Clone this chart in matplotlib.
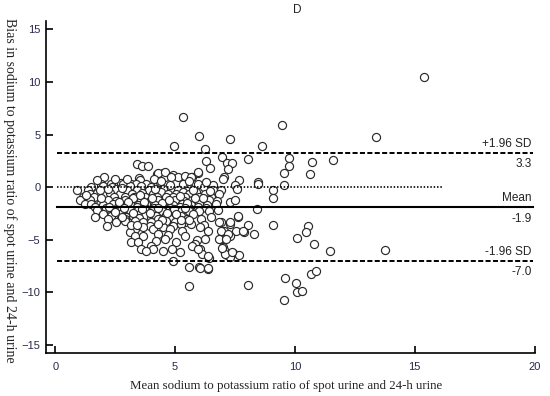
import matplotlib
matplotlib.use("Agg")
import matplotlib.pyplot as plt

# Bland-Altman data: mean of the two ratios (x) and their difference (y)
outer_x = [15.37, 13.38, 9.45, 8.62, 8.03, 9.77, 9.77, 9.53, 10.72, 10.63, 11.58, 8.45, 8.45, 9.53,
           9.09, 9.09, 8.41, 8.03, 7.88, 8.28, 9.09, 10.56, 10.48, 10.08, 10.78, 11.47, 13.74,
           8.06, 9.6, 10.03, 10.08, 10.28, 9.53, 10.67, 10.87]
outer_y = [10.48, 4.8, 5.9, 3.9, 2.7, 2.8, 2.0, 1.37, 2.36, 1.27, 2.6, 0.54, 0.35, 0.26,
           -0.29, -1.02, -2.1, -3.6, -4.3, -4.4, -3.57, -3.72, -4.3, -4.84, -5.4, -6.05, -5.95,
           -9.3, -8.66, -9.14, -9.93, -9.87, -10.7, -8.24, -7.95]

mid_x = [5.33, 6.0, 7.27, 4.94, 6.26, 6.95, 7.18, 7.38, 7.2, 6.3, 6.44, 7.03, 6.98, 7.66, 7.48,
         7.57, 7.62, 7.27, 7.03, 7.55, 7.3, 6.88, 6.98, 7.03, 7.16, 7.41, 7.66, 6.41, 5.58, 5.58,
         6.0, 6.37, 5.77, 6.02, 7.27, 7.08, 7.36, 6.94, 6.11, 6.38]
mid_y = [6.66, 4.9, 4.63, 3.9, 3.63, 2.83, 2.32, 2.26, 1.76, 2.45, 1.84, 0.98, 0.76, 0.72, 0.26,
         -0.13, -2.83, -3.5, -4.2, -4.2, -4.68, -4.9, -5.7, -5.95, -6.43, -6.27, -6.4, -6.69, -9.36, -7.6,
         -7.6, -7.75, -5.63, -5.9, -6.59, -6.37, -6.2, -5.73, -6.37, -6.53]

upper_x = [3.4, 3.6, 3.87, 4.24, 4.49, 4.59, 4.91, 5.12, 5.4, 5.7, 5.97, 3.5, 3.52, 2.03,
           4.28, 4.56, 4.84, 5.68, 5.95, 3.17, 2.76]
upper_y = [2.25, 2.0, 2.03, 1.24, 1.4, 0.98, 1.15, 1.0, 1.1, 1.0, 1.4, 0.9, 0.67, 0.98,
           1.31, 1.46, 0.98, 0.98, 1.46, 0.35, 0.41]

core_x = [1.9, 2.34, 2.83, 3.38, 3.8, 4.35, 5.33, 5.95, 6.6,
          1.5, 1.99, 2.37, 3.1, 3.59, 4.0, 4.77, 5.6, 6.2,
          0.9, 1.37, 2.55, 3.0, 3.4, 3.9, 4.49, 5.1, 5.5, 6.58, 6.9,
          1.44, 1.72, 2.06, 2.27, 2.7, 3.2, 3.6, 4.07, 4.42, 4.7, 5.05, 5.33, 5.6, 5.88, 6.23, 6.85,
          1.16, 1.6, 2.45, 2.9, 3.3, 3.75, 4.25, 4.9, 5.4, 6.0, 6.5,
          1.02, 1.44, 1.85, 2.2, 2.55, 2.9, 3.24, 3.59, 3.94, 4.3, 4.65, 5.0, 5.35, 5.7, 6.05, 6.4,
          6.75, 7.27, 7.48,
          1.23, 1.5, 2.0, 2.4, 2.75, 3.1, 3.45, 3.8, 4.15, 4.5, 4.9, 5.3, 5.65, 6.0, 6.35, 6.7,
          1.65, 2.1, 2.6, 3.0, 3.4, 3.75, 4.1, 4.5, 4.8, 5.2, 5.6, 5.95, 6.3,
          1.72, 2.41, 2.76, 3.1, 3.45, 3.73, 4.05, 4.45, 4.85, 5.25, 5.6, 6.0, 6.4, 6.8,
          1.99, 2.34, 2.69, 2.97, 3.24, 3.45, 3.73, 4.0, 4.21, 4.6, 4.77, 5.26, 5.74, 6.51, 7.62,
          1.65, 2.2, 2.9, 3.5, 4.3, 4.77, 5.5, 6.09, 6.9,
          2.55, 2.9, 3.31, 3.66, 4.0, 4.6, 5.0, 5.4, 6.85, 7.27,
          2.17, 3.94, 4.91, 5.26, 5.68, 6.2,
          3.31, 3.66, 4.07, 4.49, 6.02, 4.8,
          6.37, 6.92, 7.82, 5.3,
          3.1, 3.31, 3.66, 5.4, 7.2, 4.3, 4.7,
          4.21, 4.56, 6.23, 6.85, 7.13, 5.9,
          3.17, 3.45, 5.05, 5.81, 4.0,
          3.59, 4.09, 4.5, 4.85, 5.2, 5.69, 5.97,
          3.8, 4.91, 6.02, 6.37]
core_y = [0.35, 0.3, 0.35, 0.35, 0.35, 0.51, 0.35, 0.35, 0.2,
          0.03, 0.1, 0.03, 0.1, 0.1, 0.0, 0.19, -0.05, 0.0,
          -0.29, -0.29, -0.13, -0.3, -0.25, -0.3, -0.13, -0.3, -0.35, -0.29, -0.3,
          -0.6, -0.54, -0.6, -0.54, -0.6, -0.6, -0.55, -0.6, -0.45, -0.6, -0.6, -0.45, -0.6, -0.5,
          -0.6, -0.65,
          -0.92, -0.95, -0.9, -0.95, -0.9, -0.95, -0.9, -0.95, -0.9, -0.95, -0.9,
          -1.24, -1.24, -1.56, -1.24, -1.3, -1.24, -1.56, -1.24, -1.3, -1.24, -1.3, -1.24, -1.3,
          -1.24, -1.3, -1.24, -1.3, -1.4, -1.24,
          -1.6, -1.56, -1.65, -1.6, -1.65, -1.6, -1.65, -1.6, -1.65, -1.6, -1.7, -1.6, -1.7,
          -1.6, -1.7, -1.6,
          -1.88, -1.95, -1.9, -1.95, -1.9, -1.95, -1.95, -1.9, -1.95, -1.9, -1.95, -1.9, -1.95,
          -2.2, -2.2, -2.2, -2.2, -2.2, -2.2, -2.25, -2.25, -2.3, -2.25, -2.3, -2.25, -2.3, -2.2,
          -2.55, -2.7, -2.55, -2.86, -2.7, -2.6, -2.7, -2.86, -2.7, -2.6, -2.86, -2.7, -2.55,
          -2.86, -2.7,
          -2.86, -3.0, -3.0, -2.95, -3.0, -3.0, -3.0, -3.03, -3.34,
          -3.34, -3.18, -3.18, -3.34, -3.3, -3.25, -3.3, -3.3, -3.34, -3.34,
          -3.66, -3.66, -3.66, -3.5, -3.5, -3.6,
          -3.98, -3.82, -3.98, -3.82, -3.82, -4.0,
          -4.14, -4.14, -4.14, -4.14,
          -4.3, -4.6, -4.61, -4.61, -4.46, -4.4, -4.5,
          -5.1, -4.94, -4.94, -4.94, -4.94, -5.0,
          -5.25, -5.25, -5.25, -5.41, -5.57,
          -5.86, -5.9, -6.05, -5.9, -6.2, -5.57, -5.9,
          -6.05, -7.0, -7.64, -7.7]

# further overlapping points inside the dense cluster
dense_x = [1.75, 2.5, 3.0, 4.1, 4.4, 5.6, 6.3,
           1.3, 1.85, 2.2, 2.8, 3.25, 3.55, 4.15, 4.6, 5.2, 5.75, 6.15, 6.45,
           1.9, 2.65, 3.05, 3.7, 4.05, 4.45, 4.75, 5.5, 5.85,
           2.25, 2.85, 3.6, 4.3, 4.95, 5.4,
           2.5, 3.25, 3.95, 4.65, 5.05, 2.8,
           4.45, 5.25, 3.15, 3.4, 4.3, 5.6]
dense_y = [0.7, 0.75, 0.8, 0.75, 0.6, 0.6, 0.5,
           -0.7, -0.3, -0.2, -0.1, -1.0, -0.75, -0.2, -0.95, -0.85, -0.3, -1.0, -0.4,
           -1.0, -1.45, -1.45, -1.45, -1.05, -1.5, -1.2, -1.5, -1.05,
           -1.85, -2.0, -2.05, -2.0, -2.1, -2.0,
           -2.4, -2.45, -2.45, -2.45, -2.5, -2.8,
           -3.1, -3.1, -3.6, -3.55, -3.5, -3.1]

mean_x = outer_x + mid_x + upper_x + core_x + dense_x
diff_y = outer_y + mid_y + upper_y + core_y + dense_y

bias = -1.9
upper_loa = 3.3
lower_loa = -7.0

x_ticks = [0, 5, 10, 15, 20]
y_ticks = [-15, -10, -5, 0, 5, 10, 15]

sans = ["Liberation Sans", "DejaVu Sans"]
serif = ["Liberation Serif", "DejaVu Serif"]
tick_col = "#262a4a"

fig = plt.figure(figsize=(5.5, 3.96), dpi=100)
ax = fig.add_axes([0.0836, 0.1093, 0.8891, 0.8384])

ax.scatter(mean_x, diff_y, s=34, facecolor="white", edgecolor="#2a2a2a",
           linewidth=0.85, zorder=2)

# limit lines and zero line
x0, x1 = 0.05, 19.92
ax.plot([x0, x1], [upper_loa, upper_loa], color="black", lw=1.4, dashes=(2.6, 1.2), zorder=3)
ax.plot([x0, x1], [lower_loa, lower_loa], color="black", lw=1.4, dashes=(2.6, 1.2), zorder=3)
ax.plot([x0, x1], [bias, bias], color="black", lw=1.5, zorder=3)
ax.plot([x0, max(mean_x) * 1.05], [0, 0], color="black", lw=1.2, dashes=(0.9, 1.1), zorder=3)

for val, name in [(upper_loa, "+1.96 SD"), (bias, "Mean"), (lower_loa, "-1.96 SD")]:
    ax.annotate(name, (19.88, val), xytext=(0, 2), textcoords="offset points",
                ha="right", va="bottom", fontsize=8.5, family=sans, color="#222222")
    ax.annotate(f"{val:.1f}", (19.88, val), xytext=(0, -4), textcoords="offset points",
                ha="right", va="top", fontsize=8.5, family=sans, color="#222222")

ax.set_xlim(-0.39, 20.02)
ax.set_ylim(-15.73, 15.83)
ax.set_xticks(x_ticks)
ax.set_yticks(y_ticks)
ax.tick_params(direction="in", length=5, width=1.2, labelsize=8, labelcolor=tick_col)
ax.tick_params(axis="x", pad=7)
ax.tick_params(axis="y", pad=4)
for lab in ax.get_xticklabels() + ax.get_yticklabels():
    lab.set_family(sans)

for side in ["top", "right"]:
    ax.spines[side].set_visible(False)
for side in ["left", "bottom"]:
    ax.spines[side].set_linewidth(1.2)

ax.text(10.1, 15.83 + 1.0, "D", ha="center", va="center", fontsize=8.5, family=sans,
        color="#222222")
fig.text(0.5 + 0.02, 0.025, "Mean sodium to potassium ratio of spot urine and 24-h urine",
         ha="center", va="center", fontsize=9.3, family=serif, color="#222222")
fig.text(0.018, 0.52, "Bias in sodium to potassium ratio of spot urine and 24-h urine",
         ha="center", va="center", rotation=270, fontsize=10, family=serif, color="#222222")

fig.savefig("out.png", dpi=100)
